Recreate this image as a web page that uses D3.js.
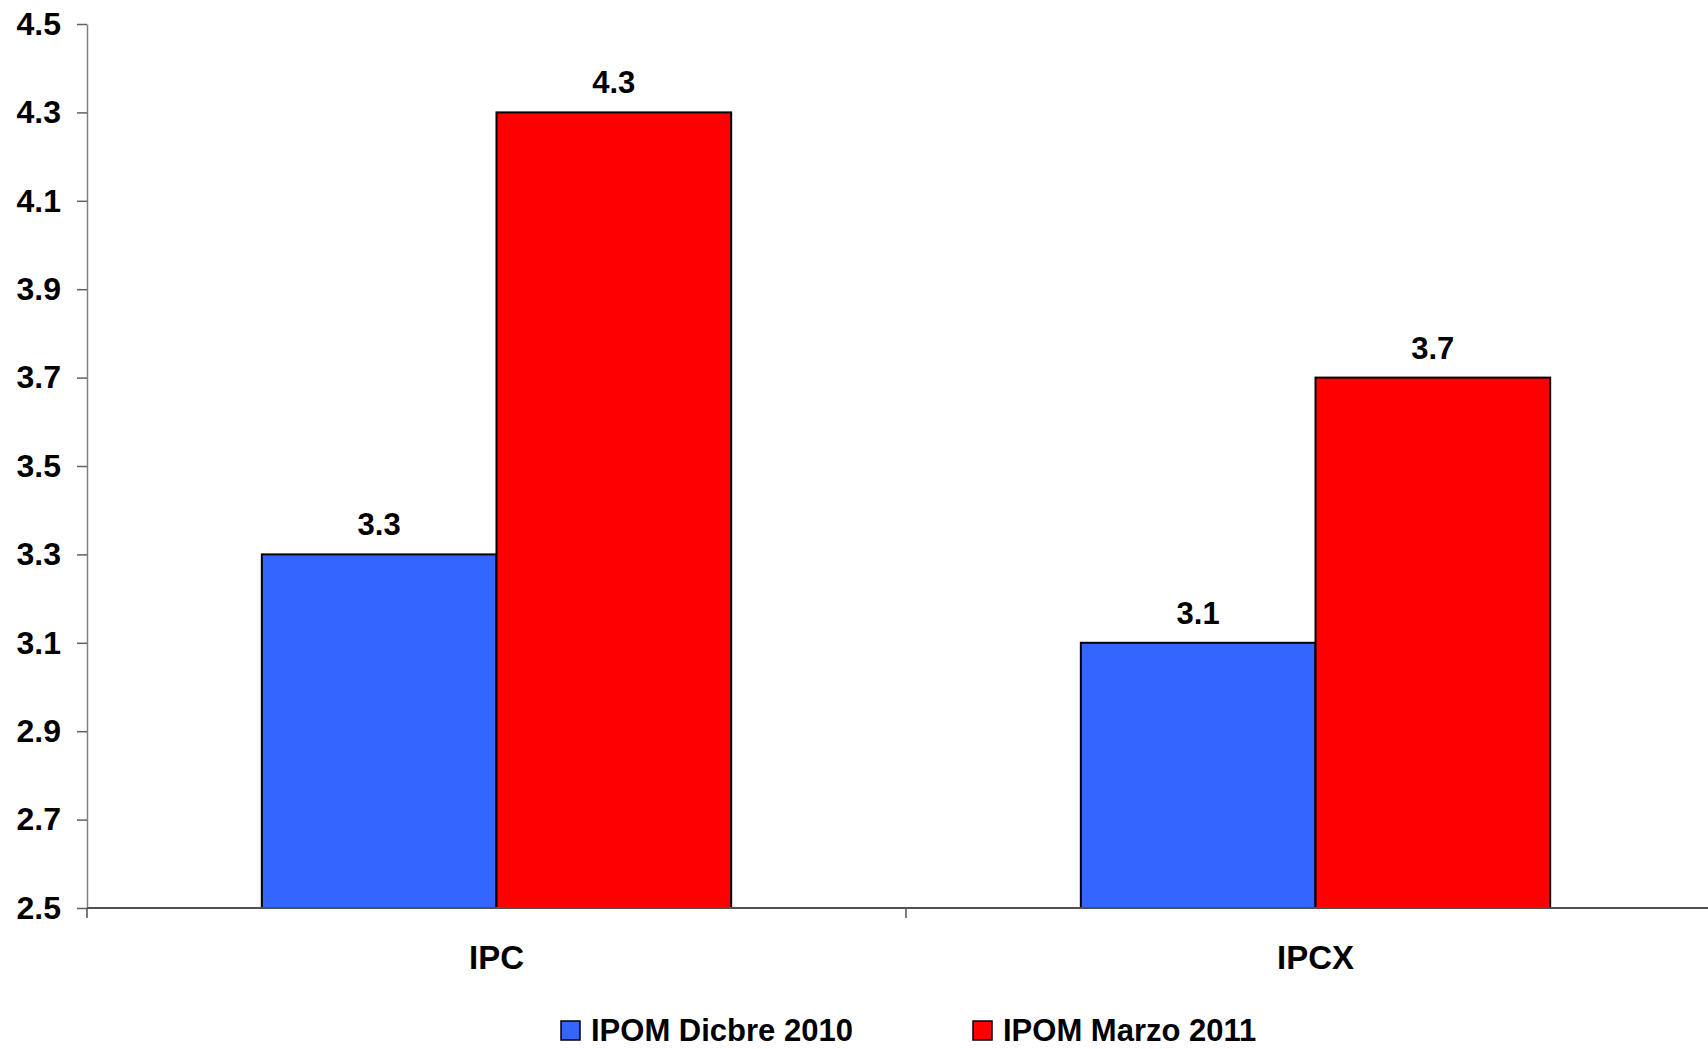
<!DOCTYPE html>
<html>
<head>
<meta charset="utf-8">
<script src="https://cdn.jsdelivr.net/npm/d3@7"></script>
<style>
  body { margin: 0; background: #fff; }
  svg { display: block; font-family: "Liberation Sans", Arial, sans-serif; font-weight: bold; }
</style>
</head>
<body>
<svg width="1708" height="1049"></svg>
<script>
const categories = ['IPC', 'IPCX'];
const seriesNames = ['IPOM Dicbre 2010', 'IPOM Marzo 2011'];
const dicbre2010 = [3.3, 3.1];
const marzo2011 = [4.3, 3.7];
const yTicks = [2.5, 2.7, 2.9, 3.1, 3.3, 3.5, 3.7, 3.9, 4.1, 4.3, 4.5];
const colors = ['#3366FF', '#FF0000'];

const seriesValues = [dicbre2010, marzo2011];

// plot box
const plotLeft = 87, plotRight = 1725, plotTop = 24, plotBottom = 908;

const svg = d3.select('svg');

const yScale = d3.scaleLinear()
  .domain([2.5, 4.5])
  .range([plotBottom, plotTop]);

const x0 = d3.scaleBand()
  .domain(categories)
  .range([plotLeft, plotRight])
  .padding(0);

const x1 = d3.scaleBand()
  .domain(seriesNames)
  .range([0, x0.bandwidth()])
  .paddingInner(0)
  .paddingOuter(0.745);

// y axis
const yAxis = svg.append('g')
  .attr('transform', `translate(${plotLeft},0)`)
  .call(d3.axisLeft(yScale).tickValues(yTicks).tickSize(10).tickSizeOuter(0).tickFormat(d3.format('.1f')));
yAxis.select('.domain').attr('stroke', '#808080').attr('stroke-width', 1.5);
yAxis.selectAll('.tick line').attr('stroke', '#606060').attr('stroke-width', 1.5);
yAxis.selectAll('.tick text')
  .attr('x', -26)
  .attr('font-size', 32)
  .attr('font-weight', 'bold')
  .attr('font-family', '"Liberation Sans", Arial, sans-serif')
  .attr('fill', '#000');

// bars
const groups = svg.selectAll('.cat')
  .data(categories)
  .enter()
  .append('g')
  .attr('class', 'cat')
  .attr('transform', (c) => `translate(${x0(c)},0)`);

groups.selectAll('rect')
  .data((c, ci) => seriesNames.map((s, si) => ({ s, si, v: seriesValues[si][ci] })))
  .enter()
  .append('rect')
  .attr('x', (d) => x1(d.s))
  .attr('y', (d) => yScale(d.v))
  .attr('width', x1.bandwidth())
  .attr('height', (d) => yScale(2.5) - yScale(d.v))
  .attr('fill', (d) => colors[d.si])
  .attr('stroke', '#000')
  .attr('stroke-width', 2);

// value labels
groups.selectAll('text.value')
  .data((c, ci) => seriesNames.map((s, si) => ({ s, si, v: seriesValues[si][ci] })))
  .enter()
  .append('text')
  .attr('class', 'value')
  .attr('x', (d) => x1(d.s) + x1.bandwidth() / 2)
  .attr('y', (d) => yScale(d.v) - 19)
  .attr('text-anchor', 'middle')
  .attr('font-size', 31)
  .text((d) => d3.format('.1f')(d.v));

// x axis
const xAxis = svg.append('g');
xAxis.append('line')
  .attr('x1', plotLeft).attr('x2', 1708)
  .attr('y1', plotBottom).attr('y2', plotBottom)
  .attr('stroke', '#505050').attr('stroke-width', 2);
xAxis.selectAll('line.tick')
  .data(categories)
  .enter()
  .append('line')
  .attr('class', 'tick')
  .attr('x1', (c) => x0(c)).attr('x2', (c) => x0(c))
  .attr('y1', plotBottom).attr('y2', plotBottom + 10)
  .attr('stroke', '#505050').attr('stroke-width', 1.5);
xAxis.selectAll('text')
  .data(categories)
  .enter()
  .append('text')
  .attr('x', (c) => x0(c) + x0.bandwidth() / 2)
  .attr('y', 969)
  .attr('text-anchor', 'middle')
  .attr('font-size', 33)
  .text((c) => c);

// legend
const legendX = [561, 973];
const legend = svg.selectAll('.legend')
  .data(seriesNames)
  .enter()
  .append('g')
  .attr('class', 'legend')
  .attr('transform', (s, i) => `translate(${legendX[i]},1021)`);
legend.append('rect')
  .attr('width', 19).attr('height', 19)
  .attr('fill', (s, i) => colors[i])
  .attr('stroke', '#000').attr('stroke-width', 1.5);
legend.append('text')
  .attr('x', 30)
  .attr('y', 20)
  .attr('font-size', 31)
  .text((s) => s);
</script>
</body>
</html>
